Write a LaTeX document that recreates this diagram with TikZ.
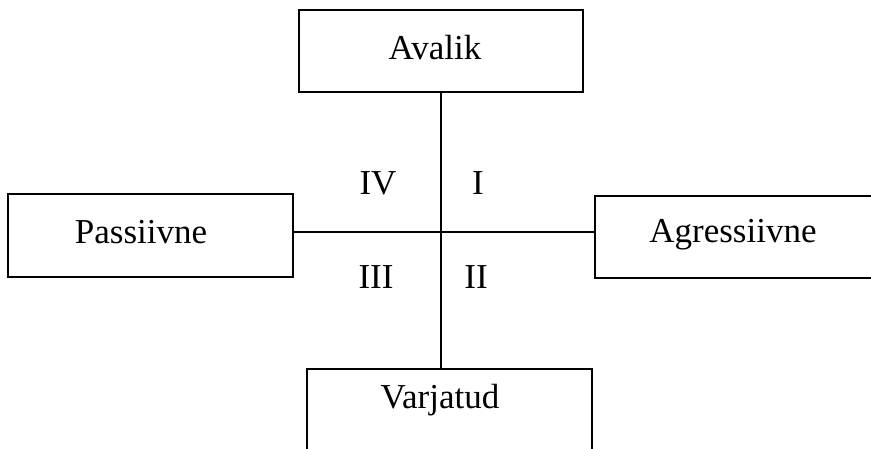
\documentclass[tikz,border=0pt]{standalone}
\usepackage{fontspec}
\setmainfont{Liberation Serif}
\begin{document}
\begin{tikzpicture}[x=1pt,y=1pt,
  boxnode/.style={draw=black,line width=1.1pt,rectangle,inner sep=0pt},
  boxtext/.style={font=\fontsize{35}{40}\selectfont,inner sep=0pt},
  quadlabel/.style={font=\fontsize{35}{40}\selectfont,inner sep=0pt},
  axis/.style={draw=black,line width=1.1pt}]
\useasboundingbox (0,0) rectangle (871,448);
\clip (0,0) rectangle (871,448);
\node[boxnode,minimum width=284pt,minimum height=82pt] (avalik) at (441,397) {};
\node[boxtext] (avalikT) at (435,400) {Avalik};
\node[boxnode,minimum width=285pt,minimum height=83pt] (passiivne) at (150.5,212.5) {};
\node[boxtext] (passiivneT) at (141,216) {Passiivne};
\node[boxnode,minimum width=285pt,minimum height=82pt] (agressiivne) at (737.5,211) {};
\node[boxtext] (agressiivneT) at (733,213) {Agressiivne};
\node[boxnode,minimum width=285pt,minimum height=83pt] (varjatud) at (449.5,37.5) {};
\node[boxtext] (varjatudT) at (440,48) {Varjatud};
\coordinate (c) at (441,216);
\draw[axis] (c |- avalik.south) -- (c |- varjatud.north);
\draw[axis] (passiivne.east |- c) -- (agressiivne.west |- c);
\node[quadlabel] (q4) at (378,265) {IV};
\node[quadlabel] (q1) at (478,265) {I};
\node[quadlabel] (q3) at (376,171) {III};
\node[quadlabel] (q2) at (476,171) {II};
\end{tikzpicture}
\end{document}
